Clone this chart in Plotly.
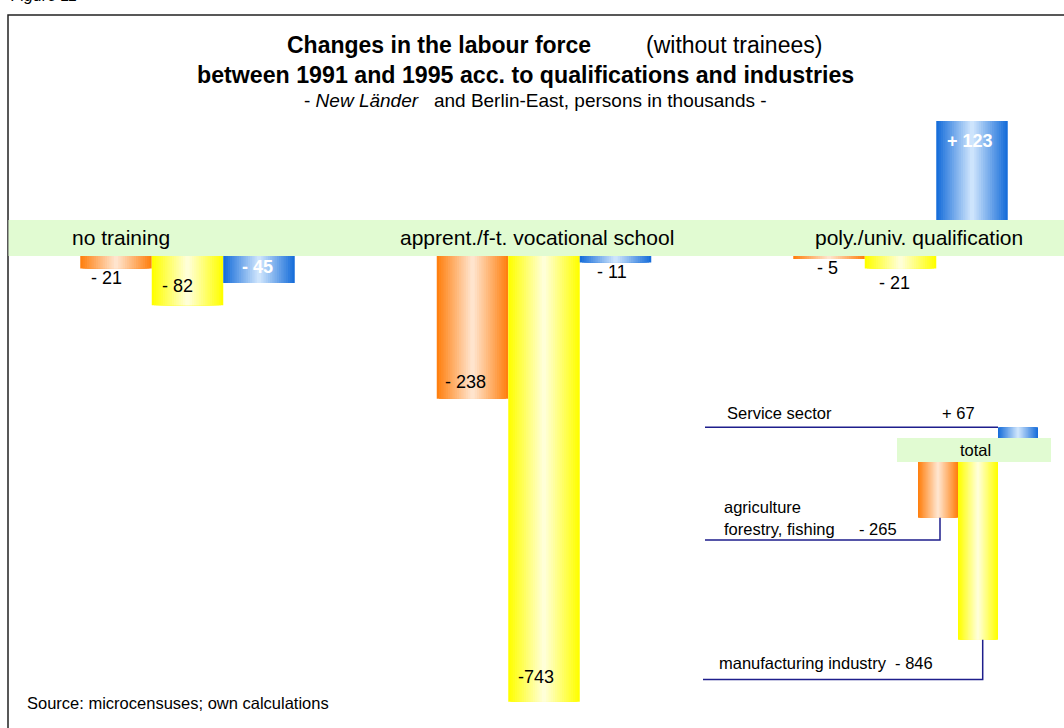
import plotly.graph_objects as go

# Change in persons employed 1991 -> 1995 (thousands), New Länder and Berlin-East
categories = ["no training", "apprent./f-t. vocational school", "poly./univ. qualification"]
sectors = ["agriculture, forestry, fishing", "manufacturing industry", "Service sector"]
agriculture = [-21, -238, -5]
manufacturing = [-82, -743, -21]
services = [-45, -11, 123]
totals = [-265, -846, 67]

W, H = 1064, 728
FONT = "Liberation Sans, Arial, sans-serif"

# sector colours: (edge, centre) of the horizontal shading
shades = [((255, 128, 16), (255, 228, 205)),
          ((255, 255, 0), (255, 255, 215)),
          ((24, 110, 218), (205, 228, 252))]


def px_x(p):
    return p / W


def px_y(p):
    return 1 - p / H


def mix(a, b, t):
    return "rgb(%d,%d,%d)" % tuple(round(a[i] + (b[i] - a[i]) * t) for i in range(3))


# main panel geometry (pixels per thousand persons)
CAT_PX = 356.5
BAR_W = 71.5 / CAT_PX
NEG_ZERO, NEG_BOTTOM, NEG_SCALE = 256, 712, 0.6
POS_ZERO, POS_TOP, POS_SCALE = 220, 110, 0.805
# inset (total) geometry
IN_NEG_ZERO, IN_NEG_SCALE = 462, 0.21
IN_POS_ZERO, IN_POS_TOP, IN_POS_SCALE = 438, 395, 0.16
IN_BAR_PX = 40.0

fig = go.Figure()
STEPS = 16


def shaded_bars(xs, ys, width, colour, xaxis, yaxis):
    edge, centre = colour
    for k in range(STEPS):
        frac = 1 - k / STEPS
        t = k / (STEPS - 1)
        fig.add_trace(go.Bar(
            x=xs, y=ys, width=width * frac,
            marker=dict(color=mix(edge, centre, t), line=dict(width=0)),
            xaxis=xaxis, yaxis=yaxis, hoverinfo="skip", showlegend=False))


series = [agriculture, manufacturing, services]
for s, vals in enumerate(series):
    xs = [c + (s - 1) * BAR_W for c in range(len(categories))]
    neg = [v if v < 0 else None for v in vals]
    pos = [v if v > 0 else None for v in vals]
    shaded_bars(xs, neg, BAR_W, shades[s], "x", "y")
    shaded_bars(xs, pos, BAR_W, shades[s], "x", "y2")

for s, v in enumerate(totals):
    shaded_bars([s], [v], 1.0, shades[s], "x3", "y4" if v > 0 else "y3")

annotations = []

# value labels: placement (vertical shift, horizontal shift, white bold inside?)
label_style = [
    [(-9.5, -10, False), (17, -7, False), (-9, -2, False)],
    [(19, -10, False), (25, -8, False), (-14, -6, False)],
    [(16, -2, True), (-9.5, -4, False), (-20, -2, True)],
]
compact = {(1, 1)}
for s, vals in enumerate(series):
    for c, v in enumerate(vals):
        dy, dx, inside = label_style[s][c]
        sep = "" if (s, c) in compact else " "
        txt = ("+" if v > 0 else "-") + sep + str(abs(v))
        if inside:
            txt = "<b>" + txt + "</b>"
        annotations.append(dict(
            x=c + (s - 1) * BAR_W, y=v, xref="x", yref="y2" if v > 0 else "y",
            text=txt, showarrow=False, xanchor="center", yanchor="middle",
            xshift=dx, yshift=dy,
            font=dict(family=FONT, size=18, color="white" if inside else "black")))

# category labels on the zero band
cat_px = [121, 537, 919]
for name, cx in zip(categories, cat_px):
    annotations.append(dict(x=px_x(cx), y=px_y(238), xref="paper", yref="paper",
                            text=name, showarrow=False, xanchor="center", yanchor="middle",
                            font=dict(family=FONT, size=21, color="black")))


def note(text, x, y, size, anchor="left", color="black"):
    annotations.append(dict(x=px_x(x), y=px_y(y), xref="paper", yref="paper",
                            text=text, showarrow=False, xanchor=anchor, yanchor="middle",
                            font=dict(family=FONT, size=size, color=color)))


# titles
note("<b>Changes in the labour force</b>", 439, 45, 23, "center")
note("(without trainees)", 734, 45, 23, "center")
note("<b>between 1991 and 1995 acc. to qualifications and industries</b>", 525, 75, 23.2, "center")
note("- <i>New Länder</i>   and Berlin-East, persons in thousands -", 535, 101, 19, "center")
annotations.append(dict(x=0.008, y=px_y(6), xref="paper", yref="paper", text="<i>Figure 11</i>",
                        showarrow=False, xanchor="left", yanchor="bottom",
                        font=dict(family=FONT, size=16, color="black")))

# inset texts
note("total", 975, 450, 16.5, "center")
note("Service sector", 725, 413, 16.5)
note("+ %d" % totals[2], 958, 413, 16.5, "center")
note("agriculture", 722, 507, 16.5)
note("forestry, fishing", 722, 529, 16.5)
note("- %d" % abs(totals[0]), 878, 529, 16.5, "center")
note("manufacturing industry  - %d" % abs(totals[1]), 717, 663, 16.5)

note("Source: microcensuses; own calculations", 25, 703, 16.5)

LEADER = dict(color="#1e1e8c", width=1.5)


def in_x(p):
    return (p - 938) / IN_BAR_PX


def in_neg_y(p):
    return -(p - IN_NEG_ZERO) / IN_NEG_SCALE


shapes = [
    # frame
    dict(type="rect", xref="paper", yref="paper", x0=px_x(8), x1=px_x(1075),
         y0=px_y(740), y1=px_y(15), line=dict(color="#222", width=1.5), layer="below"),
    # zero bands
    dict(type="rect", xref="paper", yref="paper", x0=px_x(8.5), x1=px_x(1064),
         y0=px_y(NEG_ZERO), y1=px_y(POS_ZERO), fillcolor="#e1fbd2", line=dict(width=0), layer="below"),
    dict(type="rect", xref="paper", yref="paper", x0=px_x(897), x1=px_x(1051),
         y0=px_y(IN_NEG_ZERO), y1=px_y(IN_POS_ZERO), fillcolor="#e1fbd2", line=dict(width=0), layer="below"),
    # service sector leader at the bar top
    dict(type="line", xref="x3", yref="y4", x0=in_x(705), x1=in_x(998), y0=totals[2], y1=totals[2],
         line=LEADER),
    # agriculture leader
    dict(type="path", xref="x3", yref="y3",
         path="M %f,%f L %f,%f L %f,%f" % (in_x(940), totals[0], in_x(940), in_neg_y(540),
                                         in_x(705), in_neg_y(540)), line=LEADER),
    # manufacturing leader
    dict(type="path", xref="x3", yref="y3",
         path="M %f,%f L %f,%f L %f,%f" % (in_x(982.7), totals[1], in_x(982.7), in_neg_y(679.5),
                                         in_x(703), in_neg_y(679.5)), line=LEADER),
]

hidden = dict(visible=False, fixedrange=True)
fig.update_layout(
    width=W, height=H, margin=dict(l=0, r=0, t=0, b=0),
    paper_bgcolor="white", plot_bgcolor="rgba(0,0,0,0)",
    barmode="overlay", showlegend=False,
    xaxis=dict(domain=[0, 1], range=[-187.5 / CAT_PX, (W - 187.5) / CAT_PX], anchor="y", **hidden),
    yaxis=dict(domain=[px_y(NEG_BOTTOM), px_y(NEG_ZERO)],
               range=[-(NEG_BOTTOM - NEG_ZERO) / NEG_SCALE, 0], anchor="x", **hidden),
    yaxis2=dict(domain=[px_y(POS_ZERO), px_y(POS_TOP)],
                range=[0, (POS_ZERO - POS_TOP) / POS_SCALE], anchor="x", **hidden),
    xaxis3=dict(domain=[px_x(700), 1], range=[in_x(700), in_x(W)], anchor="y3", **hidden),
    yaxis3=dict(domain=[px_y(NEG_BOTTOM), px_y(IN_NEG_ZERO)],
                range=[-(NEG_BOTTOM - IN_NEG_ZERO) / IN_NEG_SCALE, 0], anchor="x3", **hidden),
    yaxis4=dict(domain=[px_y(IN_POS_ZERO), px_y(IN_POS_TOP)],
                range=[0, (IN_POS_ZERO - IN_POS_TOP) / IN_POS_SCALE], anchor="x3", **hidden),
    annotations=annotations, shapes=shapes,
)

fig.write_html("out.html")
